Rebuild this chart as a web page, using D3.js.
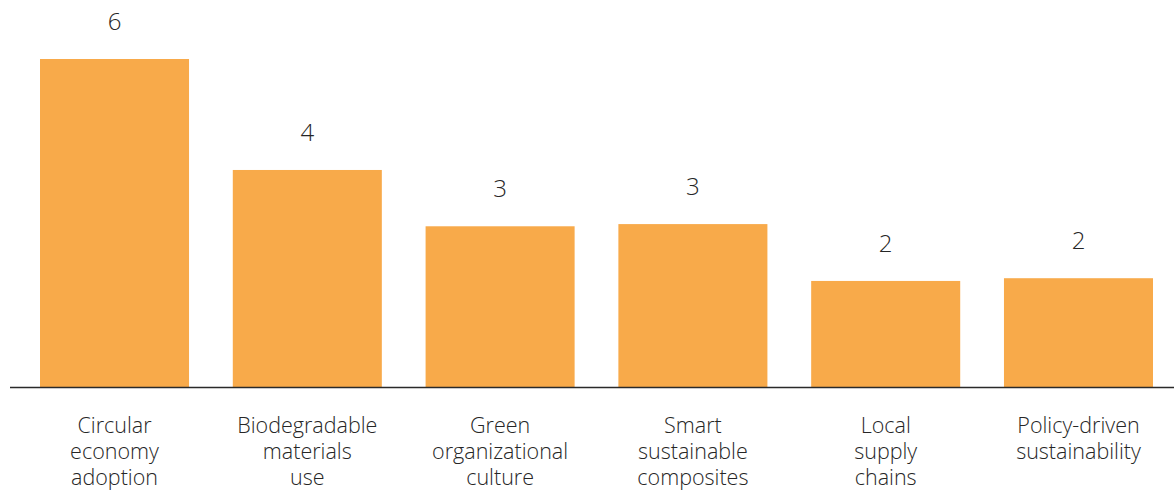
<!DOCTYPE html>
<html>
<head>
<meta charset="utf-8">
<script src="https://cdn.jsdelivr.net/npm/d3@7"></script>
<style>
  html, body { margin: 0; padding: 0; background: #fff; }
  svg { display: block; }
  text { font-family: "Open Sans", "Noto Sans", sans-serif; font-weight: 300; fill: #262626; }
</style>
</head>
<body>
<svg id="chart" width="1174" height="490"></svg>
<script>
// Sustainability themes and their scores
const categories = [
  ["Circular", "economy", "adoption"],
  ["Biodegradable", "materials", "use"],
  ["Green", "organizational", "culture"],
  ["Smart", "sustainable", "composites"],
  ["Local", "supply", "chains"],
  ["Policy-driven", "sustainability"]
];
const values = [6.0, 3.97, 2.94, 2.98, 1.94, 1.99];
const valueDomain = [0, 6];

const width = 1174, height = 490;
const baseline = 387, topY = 59;
const svg = d3.select("#chart");

const keys = categories.map((c, i) => i);
const x = d3.scaleBand().domain(keys).range([40, 1153]).paddingInner(0.227).paddingOuter(0);
const y = d3.scaleLinear().domain(valueDomain).range([baseline, topY]);
const fmt = d3.format(".0f");

// bars
svg.append("g").selectAll("rect")
  .data(values)
  .join("rect")
  .attr("x", (d, i) => x(i))
  .attr("y", d => y(d))
  .attr("width", x.bandwidth())
  .attr("height", d => y(0) - y(d))
  .attr("fill", "#F8AA4A");

// value labels above bars
svg.append("g").selectAll("text")
  .data(values)
  .join("text")
  .attr("x", (d, i) => x(i) + x.bandwidth() / 2)
  .attr("y", d => y(d) - 29)
  .attr("text-anchor", "middle")
  .attr("font-size", 24)
  .text(d => fmt(d));

// baseline axis
const axis = svg.append("g")
  .attr("transform", `translate(0,${baseline})`)
  .call(d3.axisBottom(x).tickSize(0).tickFormat(""));
axis.select(".domain").attr("d", `M10,0.5H${width}`).attr("stroke", "#2a2a2a").attr("stroke-width", 1.3);

// multi-line category labels
const labels = svg.append("g").selectAll("text")
  .data(categories)
  .join("text")
  .attr("text-anchor", "middle")
  .attr("font-size", 21.5)
  .attr("transform", (d, i) => `translate(${x(i) + x.bandwidth() / 2},433)`);
labels.selectAll("tspan")
  .data(d => d)
  .join("tspan")
  .attr("x", 0)
  .attr("y", (d, j) => j * 26)
  .text(d => d);
</script>
</body>
</html>
